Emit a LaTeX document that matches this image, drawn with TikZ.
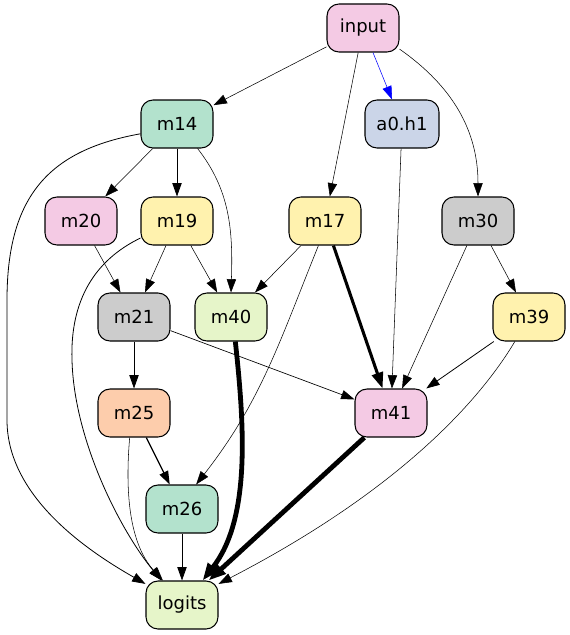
\documentclass[tikz,border=0pt]{standalone}
\usepackage{fontspec}
\setmainfont{DejaVu Sans}
\usepackage{tikz}
\usetikzlibrary{arrows.meta}
\tikzset{>={Triangle[length=10pt,width=7pt]}}
\tikzset{box/.style={draw,rounded corners=9pt,line width=0.8pt,minimum width=54pt,minimum height=36pt,font=\fontsize{13.5}{16}\selectfont}}
\tikzset{thin edge/.style={->,line width=0.4pt},
         mid edge/.style={->,line width=0.6pt},
         heavy edge/.style={-{Triangle[length=12pt,width=8.5pt]},line width=2.3pt},
         heavier edge/.style={-{Triangle[length=13pt,width=9.5pt]},line width=3.6pt}}
\definecolor{gvpink}{HTML}{F4CAE4}
\definecolor{gvgreen}{HTML}{B3E2CD}
\definecolor{gvblue}{HTML}{CBD5E8}
\definecolor{gvyellow}{HTML}{FFF2AE}
\definecolor{gvgray}{HTML}{CCCCCC}
\definecolor{gvlime}{HTML}{E6F5C9}
\definecolor{gvorange}{HTML}{FDCDAC}

\begin{document}
\begin{tikzpicture}[x=0.75pt,y=0.75pt]
    \useasboundingbox (0,0) rectangle (570,-635);

    \node[box,fill=gvpink] at (363,-28)   (input) {input};
    \node[box,fill=gvgreen] at (177,-124)   (m14) {m14};
    \node[box,fill=gvblue,minimum width=55.5pt] at (402,-124)   (a0h1) {a0.h1};
    \node[box,fill=gvpink] at (81,-221)   (m20) {m20};
    \node[box,fill=gvyellow] at (177,-221)   (m19) {m19};
    \node[box,fill=gvyellow] at (325,-221)   (m17) {m17};
    \node[box,fill=gvgray] at (478,-221)   (m30) {m30};
    \node[box,fill=gvgray] at (134,-317)   (m21) {m21};
    \node[box,fill=gvlime] at (231,-317)   (m40) {m40};
    \node[box,fill=gvyellow] at (529,-317)   (m39) {m39};
    \node[box,fill=gvorange] at (134,-413)   (m25) {m25};
    \node[box,fill=gvpink] at (391,-413)   (m41) {m41};
    \node[box,fill=gvgreen] at (182,-509)   (m26) {m26};
    \node[box,fill=gvlime] at (182,-605)   (logits) {logits};

    \draw[thin edge] (input)--(m14);
    \draw[thin edge] (input)--(m17);
    \draw[thin edge,blue] (input)--(a0h1);
    \draw[thin edge] (input.-30) to[out=-35,in=90] (m30.north);
    \draw[thin edge] (m14)--(m20);
    \draw[mid edge] (m14)--(m19);
    \draw[thin edge] (m14.-50) .. controls (230,-190) and (233,-230) .. (m40.north);
    \draw[mid edge] (m14.195) .. controls (50,-150) and (7,-195) .. (7,-300) -- (7,-420)
        .. controls (7,-500) and (95,-555) .. (logits.150);
    \draw[thin edge] (m20)--(m21);
    \draw[thin edge] (m19)--(m21);
    \draw[thin edge] (m19)--(m40);
    \draw[mid edge] (m19.205) .. controls (95,-260) and (70,-300) .. (72,-360)
        .. controls (74,-440) and (120,-530) .. (logits.130);
    \draw[thin edge] (m17)--(m40);
    \draw[thin edge] (m17.-105) to[out=-112,in=52] (m26.60);
    \draw[heavy edge] (m17)--(m41);
    \draw[thin edge] (a0h1)--(m41);
    \draw[thin edge] (m30)--(m39);
    \draw[thin edge] (m30)--(m41);
    \draw[mid edge] (m39)--(m41);
    \draw[thin edge] (m39.-120) .. controls (480,-400) and (400,-490) .. (logits.30);
    \draw[mid edge] (m21)--(m25);
    \draw[thin edge,line width=0.5pt] (m21)--(m41);
    \draw[heavier edge] (m40.-80) .. controls (245,-430) and (250,-520) .. (logits.50);
    \draw[mid edge,line width=0.9pt] (m25)--(m26);
    \draw[thin edge] (m25.-100) .. controls (126,-480) and (126,-540) .. (logits.128);
    \draw[mid edge] (m26)--(logits);
    \draw[heavier edge] (m41)--(logits);
\end{tikzpicture}
\end{document}
